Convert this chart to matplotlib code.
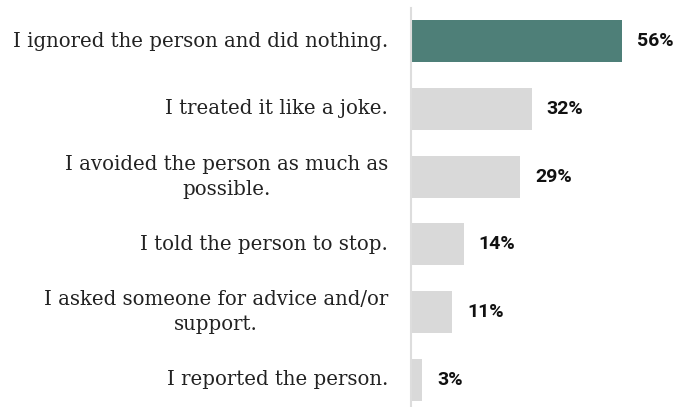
import matplotlib.pyplot as plt

# survey answers, top to bottom
labels = [
    "I ignored the person and did nothing.",
    "I treated it like a joke.",
    "I avoided the person as much as\npossible.",
    "I told the person to stop.",
    "I asked someone for advice and/or\nsupport.",
    "I reported the person.",
]
values = [56, 32, 29, 14, 11, 3]

TEAL = '#4e7f78'
GREY = '#d9d9d9'

fig = plt.figure(figsize=(6.85, 4.07), dpi=100)
ax = fig.add_axes([0.6, 0.0, 0.4, 0.98])

ypos = list(range(len(values)))
colors = [TEAL] + [GREY] * (len(values) - 1)
ax.barh(ypos, values, height=0.62, color=colors)

# value labels just past the bar end
for y, v in zip(ypos, values):
    ax.text(v + 4, y, f'{v}%', va='center', ha='left',
            fontsize=14, fontweight='bold', family='Roboto', color='#111111')

# category labels, right aligned, wrapped lines centred
for y, lab in zip(ypos, labels):
    ax.text(-6.1, y, lab, va='center', ha='right', multialignment='center',
            fontsize=14.2, family='DejaVu Serif', color='#222222',
            linespacing=1.4)

ax.set_xlim(0, 72.7)
ax.set_ylim(5.4, -0.485)
ax.set_xticks([])
ax.set_yticks([])
for s in ['top', 'right', 'bottom']:
    ax.spines[s].set_visible(False)
ax.spines['left'].set_color('#dddddd')
ax.spines['left'].set_linewidth(1.5)

fig.savefig('out.png', dpi=100)
